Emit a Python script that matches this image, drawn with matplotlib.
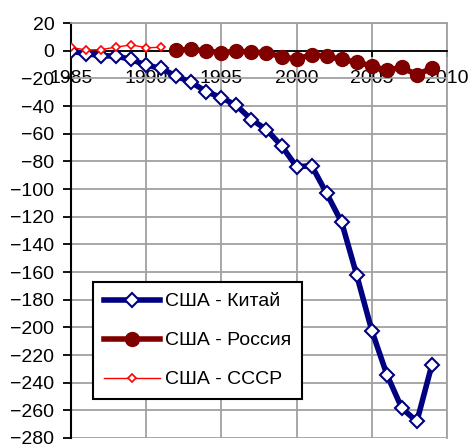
import matplotlib
matplotlib.use("Agg")
import matplotlib.pyplot as plt

plt.rcParams['font.family'] = ['Liberation Sans', 'DejaVu Sans']

years_china = list(range(1985, 2010))
china = [-0.3, -2.0, -3.5, -3.8, -6.2, -10.4, -12.7, -18.3, -22.8, -29.5, -33.8, -39.5,
         -49.7, -56.9, -68.7, -83.8, -83.1, -103.1, -124.1, -162.3, -202.3, -234.1,
         -258.5, -268.0, -226.9]

years_russia = list(range(1992, 2010))
russia = [0.6, 1.0, 0.0, -1.4, -0.2, -0.8, -1.5, -4.2, -6.0, -2.8, -3.9, -6.2, -8.2,
          -10.9, -14.2, -11.8, -17.5, -12.2]

years_ussr = list(range(1985, 1992))
ussr = [2.6, 0.6, 0.9, 2.7, 4.3, 2.3, 2.5]

labels = ['США - Китай', 'США - Россия', 'США - СССР']
xticks = [1985, 1990, 1995, 2000, 2005, 2010]
yticks = list(range(-280, 21, 20))

fig = plt.figure(figsize=(4.73, 4.46), dpi=100)
ax = fig.add_axes([0.150, 0.018, 0.795, 0.930])

ax.plot(years_china, china, color='#000080', lw=4.0, marker='D', ms=6.8,
        mfc='white', mec='#000080', mew=1.5, label=labels[0], zorder=3)
ax.plot(years_russia, russia, color='#800000', lw=4.0, marker='o', ms=10,
        mfc='#800000', mec='#800000', label=labels[1], zorder=3)
ax.plot(years_ussr, ussr, color='#ff0000', lw=1.0, marker='D', ms=4.0,
        mfc='white', mec='#ff0000', mew=1.2, label=labels[2], zorder=4)

ax.set_xlim(1985, 2010)
ax.set_ylim(-280, 20)
ax.set_xticks(xticks)
ax.set_yticks(yticks)
ax.grid(True, color='#a0a0a0', lw=1.3, zorder=0)
ax.set_axisbelow(True)

ax.spines['bottom'].set_position(('data', 0))
ax.spines['bottom'].set_color('black')
ax.spines['bottom'].set_linewidth(1.3)
ax.spines['left'].set_color('black')
ax.spines['left'].set_linewidth(1.5)
for s in ['top', 'right']:
    ax.spines[s].set_color('#a0a0a0')
    ax.spines[s].set_linewidth(1.3)

ax.tick_params(axis='y', direction='out', length=6, width=1.3, pad=6, labelsize=14)
ax.tick_params(axis='x', direction='out', length=4, width=1.3, pad=10, labelsize=14)

leg = ax.legend(loc='upper left', bbox_to_anchor=(93/473, 1-282/446),
                bbox_transform=fig.transFigure, fontsize=14, frameon=True,
                fancybox=False, edgecolor='black', framealpha=1,
                handlelength=2.9, handletextpad=0.25, labelspacing=1.1,
                borderpad=0.55, borderaxespad=0)
leg.get_frame().set_linewidth(1.5)

fig.savefig('out.png', dpi=100)
